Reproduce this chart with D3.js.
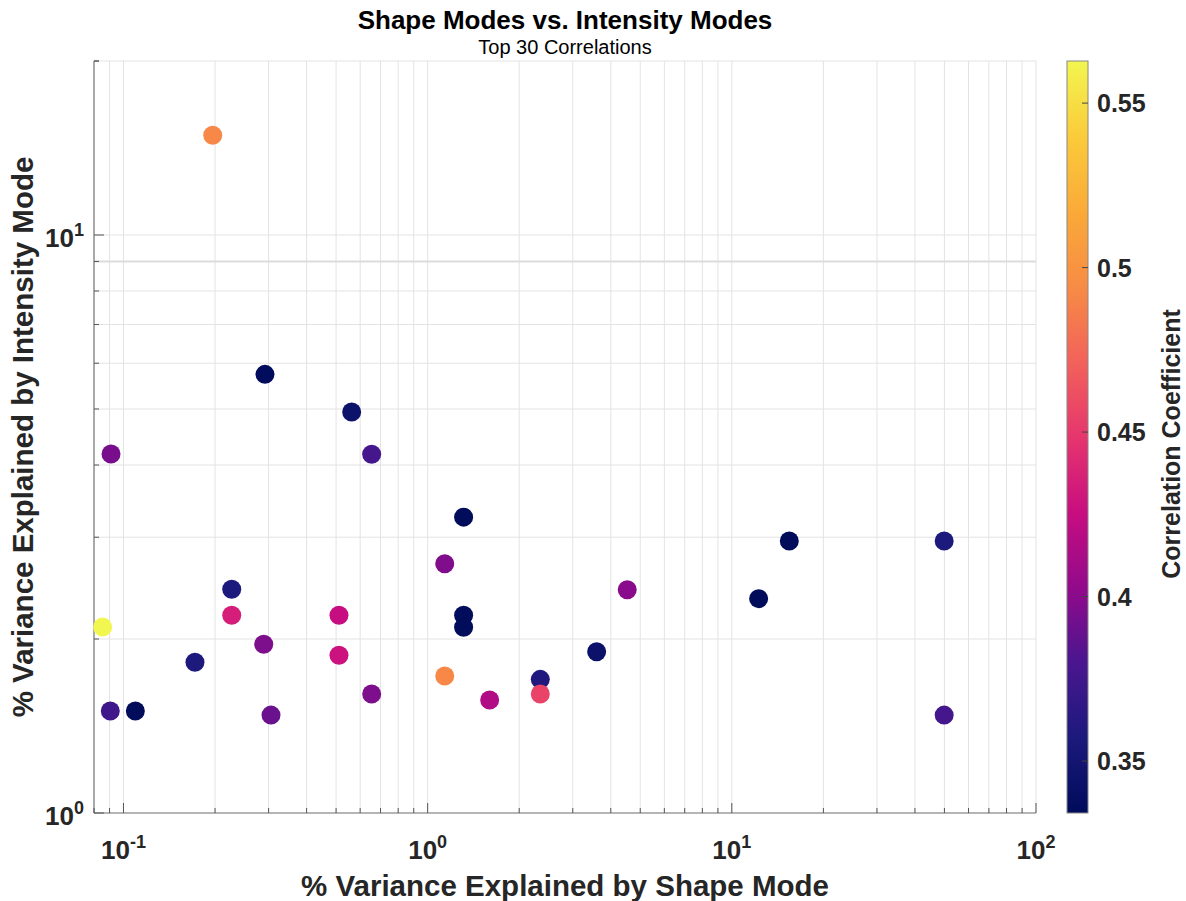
<!DOCTYPE html>
<html>
<head>
<meta charset="utf-8">
<script src="https://cdn.jsdelivr.net/npm/d3@7"></script>
<style>
  body { margin: 0; background: #fff; }
  text { font-family: "Liberation Sans", Arial, Helvetica, sans-serif; }
</style>
</head>
<body>
<svg id="chart" width="1186" height="901"></svg>
<script>
// ---- data ----
const shapeVar = [0.1965, 0.2919, 0.5626, 0.6546, 0.0910, 1.313, 15.45, 49.9, 1.138, 0.2269,
                  4.531, 12.25, 0.2269, 0.5111, 1.313, 1.313, 0.0854, 0.2891, 3.594, 0.5111,
                  0.1718, 1.138, 2.346, 0.6546, 2.346, 1.599, 0.0905, 0.1094, 0.3055, 49.9];
const intensityVar = [14.88, 5.74, 4.94, 4.175, 4.18, 3.25, 2.955, 2.955, 2.70, 2.438,
                      2.434, 2.349, 2.198, 2.198, 2.198, 2.096, 2.098, 1.958, 1.901, 1.874,
                      1.823, 1.726, 1.703, 1.607, 1.607, 1.569, 1.501, 1.501, 1.477, 1.477];
const corrCoef = [0.492, 0.336, 0.345, 0.377, 0.395, 0.335, 0.335, 0.357, 0.397, 0.357,
                  0.400, 0.335, 0.435, 0.425, 0.335, 0.335, 0.563, 0.396, 0.344, 0.428,
                  0.358, 0.492, 0.360, 0.396, 0.455, 0.415, 0.375, 0.335, 0.390, 0.377];
const xTickExps = [-1, 0, 1, 2];
const yTickExps = [0, 1];
const cbarTicks = [0.35, 0.4, 0.45, 0.5, 0.55];
const cbarTickLabels = ["0.35", "0.4", "0.45", "0.5", "0.55"];
const colorStops = ["#000b5a", "#1c1a7c", "#4a168f", "#920a8b", "#c80e80", "#e6366e",
                    "#f2625a", "#f78c45", "#faaa38", "#fbcb3b", "#f2f650"];
const titleText = "Shape Modes vs. Intensity Modes";
const subtitleText = "Top 30 Correlations";
const xLabelText = "% Variance Explained by Shape Mode";
const yLabelText = "% Variance Explained by Intensity Mode";
const cLabelText = "Correlation Coefficient";

// ---- layout ----
const svg = d3.select("#chart");
const L = 94, R = 1036, T = 61, B = 813;
const x = d3.scaleLog().domain([0.08, 100]).range([L, R]);
const y = d3.scaleLog().domain([1, 20]).range([B, T]);
const cMin = 0.3342, cMax = 0.5628;
const cInterp = d3.piecewise(d3.interpolateRgb, colorStops);
const color = v => cInterp(Math.max(0, Math.min(1, (v - cMin) / (cMax - cMin))));

const ink = "#262626";
const gridC = "#e3e3e3";

// grid
const xMinor = [], yMinor = [];
for (let e = -2; e <= 2; e++) for (let m = 1; m <= 9; m++) {
  const v = m * Math.pow(10, e);
  if (v >= 0.08 && v <= 100) xMinor.push(v);
  if (v >= 1 && v <= 20) yMinor.push(v);
}
const g = svg.append("g");
g.selectAll(".gx").data(xMinor).enter().append("line")
  .attr("x1", d => x(d)).attr("x2", d => x(d)).attr("y1", T).attr("y2", B)
  .attr("stroke", gridC).attr("stroke-width", 1);
g.selectAll(".gy").data(yMinor).enter().append("line")
  .attr("x1", L).attr("x2", R).attr("y1", d => y(d)).attr("y2", d => y(d))
  .attr("stroke", d => d === 9 ? "#dcdcdc" : gridC).attr("stroke-width", d => d === 9 ? 2 : 1);

// axes lines
g.append("line").attr("x1", L).attr("x2", R).attr("y1", B).attr("y2", B).attr("stroke", "#7a7a7a").attr("stroke-width", 1.2);
g.append("line").attr("x1", L).attr("x2", L).attr("y1", T).attr("y2", B).attr("stroke", "#7a7a7a").attr("stroke-width", 1.2);

// ticks (inside)
g.selectAll(".tx").data(xMinor).enter().append("line")
  .attr("x1", d => x(d)).attr("x2", d => x(d)).attr("y1", B)
  .attr("y2", d => B - (Number.isInteger(Math.log10(d)) ? 10 : 5))
  .attr("stroke", "#555");
g.selectAll(".ty").data(yMinor.concat([20])).enter().append("line")
  .attr("y1", d => y(d)).attr("y2", d => y(d)).attr("x1", L)
  .attr("x2", d => L + (Math.abs(Math.log10(d) - Math.round(Math.log10(d))) < 1e-9 ? 10 : 5))
  .attr("stroke", "#555");

// tick labels
function powLabel(sel, e) {
  sel.append("tspan").text("10");
  sel.append("tspan").text(String(e)).attr("font-size", 18).attr("dy", -11);
}
xTickExps.forEach(e => {
  const t = svg.append("text").attr("x", x(Math.pow(10, e))).attr("y", 859)
    .attr("text-anchor", "middle").attr("font-size", 26).attr("font-weight", "bold").attr("fill", ink);
  powLabel(t, e);
});
yTickExps.forEach(e => {
  const t = svg.append("text").attr("x", 84).attr("y", y(Math.pow(10, e)) + 12)
    .attr("text-anchor", "end").attr("font-size", 26).attr("font-weight", "bold").attr("fill", ink);
  powLabel(t, e);
});

// points
svg.append("g").selectAll("circle").data(d3.range(shapeVar.length)).enter().append("circle")
  .attr("cx", i => x(shapeVar[i])).attr("cy", i => y(intensityVar[i]))
  .attr("r", 9.5).attr("fill", i => color(corrCoef[i]));

// titles
svg.append("text").attr("x", (L + R) / 2).attr("y", 29).attr("text-anchor", "middle")
  .attr("font-size", 26).attr("font-weight", "bold").attr("fill", "#000").text(titleText);
svg.append("text").attr("x", (L + R) / 2).attr("y", 54).attr("text-anchor", "middle")
  .attr("font-size", 20).attr("fill", "#000").text(subtitleText);
svg.append("text").attr("x", (L + R) / 2).attr("y", 896).attr("text-anchor", "middle")
  .attr("font-size", 29.5).attr("font-weight", "bold").attr("fill", ink).text(xLabelText);
svg.append("text").attr("transform", `translate(33,${(T + B) / 2}) rotate(-90)`).attr("text-anchor", "middle")
  .attr("font-size", 29.5).attr("font-weight", "bold").attr("fill", ink).text(yLabelText);

// colorbar
const cbX = 1067, cbW = 21;
const cs = d3.scaleLinear().domain([cMin, cMax]).range([B, T]);
const defs = svg.append("defs");
const grad = defs.append("linearGradient").attr("id", "cg").attr("x1", 0).attr("x2", 0).attr("y1", 1).attr("y2", 0);
d3.range(0, 1.0001, 0.02).forEach(t => grad.append("stop").attr("offset", t).attr("stop-color", cInterp(t)));
svg.append("rect").attr("x", cbX).attr("y", T).attr("width", cbW).attr("height", B - T)
  .attr("fill", "url(#cg)").attr("stroke", "#888").attr("stroke-width", 1);
svg.selectAll(".ct").data(cbarTicks).enter().append("line")
  .attr("x1", cbX + cbW - 6).attr("x2", cbX + cbW).attr("y1", d => cs(d)).attr("y2", d => cs(d))
  .attr("stroke", "#444").attr("stroke-width", 1);
svg.selectAll(".cl").data(cbarTicks).enter().append("text")
  .attr("x", 1097).attr("y", d => cs(d) + 9).attr("font-size", 25).attr("font-weight", "bold").attr("fill", ink)
  .text((d, i) => cbarTickLabels[i]);
svg.append("text").attr("transform", `translate(1180,444) rotate(-90)`).attr("text-anchor", "middle")
  .attr("font-size", 25).attr("font-weight", "bold").attr("fill", ink).text(cLabelText);
</script>
</body>
</html>
